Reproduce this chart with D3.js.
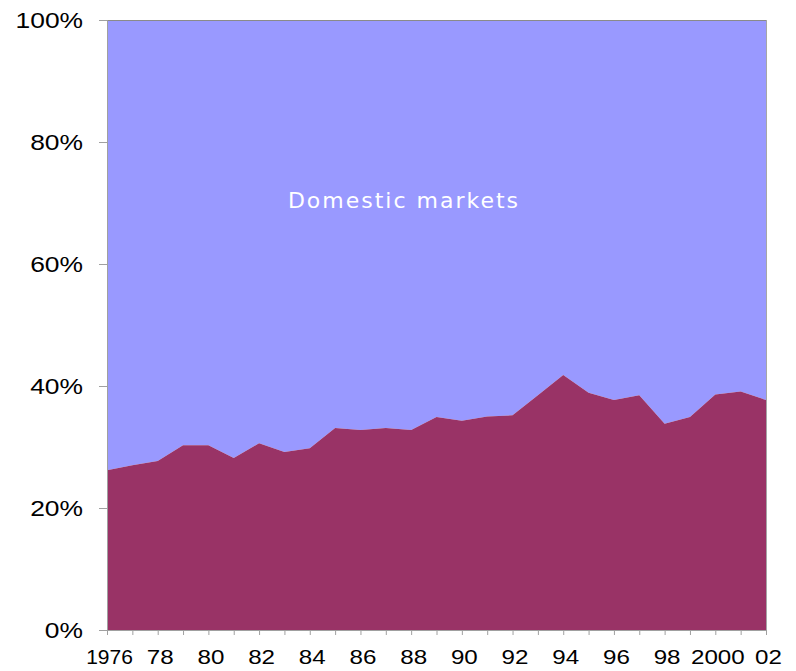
<!DOCTYPE html>
<html>
<head>
<meta charset="utf-8">
<script src="https://cdn.jsdelivr.net/npm/d3@7"></script>
<style>
  body { margin: 0; background: #fff; }
  svg { display: block; }
</style>
</head>
<body>
<div id="chart"></div>
<script>
// years on the x axis, one point per year
var years = d3.range(1976, 2003);

// share of the bottom (maroon) area, in percent
var foreignShare = [26.2, 27.0, 27.7, 30.3, 30.3, 28.2, 30.6, 29.2, 29.8, 33.1,
                    32.8, 33.1, 32.8, 34.9, 34.3, 35.0, 35.2, 38.5, 41.8, 38.9,
                    37.7, 38.5, 33.8, 34.9, 38.6, 39.1, 37.7];

var yTicks = [0, 20, 40, 60, 80, 100];
var xLabels = ["1976", "78", "80", "82", "84", "86", "88", "90", "92", "94", "96", "98", "2000", "02"];
var areaLabel = "Domestic markets";

var width = 796, height = 671;
var margin = {top: 20, right: 30, bottom: 41, left: 107};

var svg = d3.select("#chart").append("svg")
    .attr("width", width)
    .attr("height", height);

var x = d3.scaleLinear()
    .domain([1976, 2002])
    .range([margin.left, width - margin.right]);

var y = d3.scaleLinear()
    .domain([0, 100])
    .range([height - margin.bottom, margin.top]);

var data = years.map(function(yr, i) { return {year: yr, v: foreignShare[i]}; });

// top area: domestic markets (fills from the line up to 100%)
var topArea = d3.area()
    .x(d => x(d.year))
    .y0(d => y(d.v))
    .y1(y(100));

var bottomArea = d3.area()
    .x(d => x(d.year))
    .y0(y(0))
    .y1(d => y(d.v));

svg.append("path")
    .datum(data)
    .attr("d", topArea)
    .attr("fill", "#9999ff");

svg.append("path")
    .datum(data)
    .attr("d", bottomArea)
    .attr("fill", "#993366");

// plot border top + right
svg.append("line")
    .attr("x1", x(1976)).attr("x2", x(2002))
    .attr("y1", y(100) + 0.5).attr("y2", y(100) + 0.5)
    .attr("stroke", "#8a8a8a");
svg.append("line")
    .attr("x1", x(2002) + 0.5).attr("x2", x(2002) + 0.5)
    .attr("y1", y(100)).attr("y2", y(0))
    .attr("stroke", "#a6a6a6");

// y axis
var yAxis = svg.append("g")
    .attr("transform", "translate(" + margin.left + ",0)")
    .call(d3.axisLeft(y).tickValues(yTicks).tickFormat(d => d + "%").tickSize(8));

// x axis, one tick per year, labels every two years
var xAxis = svg.append("g")
    .attr("transform", "translate(0," + y(0) + ")")
    .call(d3.axisBottom(x).tickValues(years).tickSize(5).tickPadding(14)
      .tickFormat(function(d) {
        var idx = (d - 1976) / 2;
        return Number.isInteger(idx) ? xLabels[idx] : "";
      }));

[yAxis, xAxis].forEach(function(g) {
  g.select(".domain").attr("stroke", "#a0a0a0");
  g.selectAll(".tick line").attr("stroke", "#a0a0a0");
  g.selectAll("text")
    .attr("fill", "#000")
    .style("font-family", "'Liberation Sans', Arial, sans-serif");
});

// the original labels are a wide-set Arial, so stretch them sideways
var yStretch = 1.2, xStretch = 1.15;
yAxis.selectAll("text")
    .style("font-size", "22px")
    .attr("x", -24 / yStretch)
    .attr("dy", "0.33em")
    .attr("transform", "scale(" + yStretch + ",1)");
xAxis.selectAll("text")
    .style("font-size", "21px")
    .attr("x", d => d === 1976 ? 2 : 2 / xStretch)
    .attr("transform", d => d === 1976 ? null : "scale(" + xStretch + ",1)");

svg.append("text")
    .attr("x", 404)
    .attr("y", 208)
    .attr("text-anchor", "middle")
    .attr("fill", "#fff")
    .style("font-family", "'DejaVu Sans', Verdana, sans-serif")
    .style("font-size", "22px")
    .style("letter-spacing", "2px")
    .text(areaLabel);
</script>
</body>
</html>
